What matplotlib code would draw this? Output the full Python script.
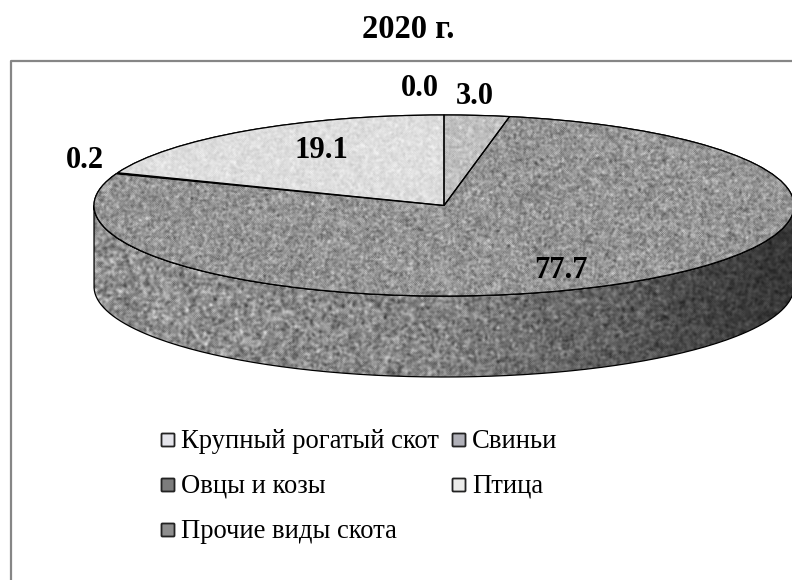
import matplotlib
matplotlib.use("Agg")
import matplotlib.pyplot as plt
import numpy as np
from matplotlib.patches import FancyBboxPatch, PathPatch
from matplotlib.path import Path

plt.rcParams['font.family'] = ['Liberation Serif', 'DejaVu Serif']

title = "2020 г."
slice_values = [0.0, 3.0, 77.7, 0.2, 19.1]
slice_colors = ["#e6e6ec", "#c0c2c6", "#959595", "#3c3c3c", "#dededa"]
slice_grain = [0, 9, 16, 0, 6]
value_labels = ["0.0", "3.0", "77.7", "0.2", "19.1"]
legend_labels = ["Крупный рогатый скот", "Свиньи", "Овцы и козы", "Птица", "Прочие виды скота"]
legend_colors = ["#e4e4ea", "#b0b0b8", "#7c7c7c", "#ececea", "#8e8e8e"]

W, H = 792, 580
CX, CY, RX, RY, DEPTH = 444, 205.5, 350, 90.5, 81


def texture(seed, base, grain, size=(580, 792), blur=2):
    # speckle only, it carries no data
    rng = np.random.default_rng(seed)
    noise = rng.normal(0, 1, size)
    for _ in range(blur):
        noise = (noise + np.roll(noise, 1, 0) + np.roll(noise, 1, 1) + np.roll(noise, -1, 0) + np.roll(noise, -1, 1)) / 5
    noise = noise / noise.std()
    return np.clip(base + grain * noise, 0, 255)


fig = plt.figure(figsize=(W / 100, H / 100), dpi=100, facecolor="white")

# pie axes fills the figure, the limits squash the unit circle into the ellipse
ax = fig.add_axes([0, 0, 1, 1])
wedges, _ = ax.pie(slice_values, colors=slice_colors, startangle=90, counterclock=False,
                   radius=1, wedgeprops=dict(edgecolor="black", linewidth=0.9))
extent = (-CX / RX, (W - CX) / RX, (CY - H) / RY, CY / RY)

# side wall under the front of the big slice
ang = np.linspace(np.pi / 2, 3 * np.pi / 2, 200)
xs, ys = np.sin(ang), np.cos(ang)
wall_x = np.concatenate([xs, xs[::-1]])
wall_y = np.concatenate([ys, ys[::-1] - DEPTH / RY])
wall = PathPatch(Path(np.column_stack([wall_x, wall_y])), facecolor="none", edgecolor="black", linewidth=0.9, zorder=2)
ax.add_patch(wall)
wall_img = texture(1, 146, 20, blur=3)
wall_img = wall_img * np.interp(np.linspace(0, 1, wall_img.shape[1]), [0, 0.12, 0.55, 0.8, 0.93, 1], [1, 1, 0.92, 0.62, 0.42, 0.38])
im = ax.imshow(wall_img, cmap="gray", vmin=0, vmax=255, extent=extent, aspect="auto", zorder=1.5, interpolation="bilinear")
im.set_clip_path(wall)

# speckle on the top faces
for i, w in enumerate(wedges):
    w.set_zorder(3)
    if slice_grain[i] == 0:
        continue
    img = texture(10 + i, int(slice_colors[i][1:3], 16), slice_grain[i])
    tim = ax.imshow(img, cmap="gray", vmin=0, vmax=255, extent=extent, aspect="auto", zorder=3.5, interpolation="bilinear")
    tim.set_clip_path(w)
    ax.add_patch(PathPatch(w.get_path(), transform=w.get_transform(), facecolor="none", edgecolor="black", linewidth=0.9, zorder=4))
ax.set_aspect("auto")
ax.set_xlim(extent[0], extent[1])
ax.set_ylim(extent[2], extent[3])
ax.axis("off")

# overlay in pixel units for the frame and the texts
ov = fig.add_axes([0, 0, 1, 1], facecolor="none")
ov.set_xlim(0, W)
ov.set_ylim(H, 0)
ov.axis("off")
ov.plot([W, 11, 11], [61, 61, H], color="#868686", linewidth=1.6, clip_on=False)

ov.text(408, 29, title, fontsize=23.5, fontweight="bold", ha="center", va="center")

label_xy = [(420, 89), (475, 96), (561, 270), (85, 160), (321, 151)]
for txt, (x, y) in zip(value_labels, label_xy):
    ov.text(x, y, txt, fontsize=22, fontweight="bold", ha="center", va="center")

legend_xy = [(161, 440), (452, 440), (161, 485), (452, 485), (161, 530)]
for txt, col, (x, y) in zip(legend_labels, legend_colors, legend_xy):
    ov.add_patch(FancyBboxPatch((x + 0.5, y - 6.5), 13, 13, boxstyle="round,pad=0,rounding_size=1",
                                facecolor=col, edgecolor="#222222", linewidth=1.3))
    ov.text(x + 20, y + 1.5, txt, fontsize=19.2, ha="left", va="center")

fig.savefig("out.png", dpi=100)
